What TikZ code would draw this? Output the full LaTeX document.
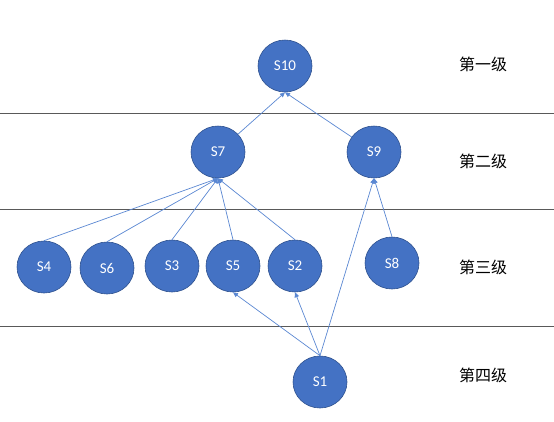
\documentclass[tikz,border=0pt]{standalone}
\usepackage{fontspec}
\setmainfont{Carlito}
\newfontfamily\cjk{Noto Sans CJK SC}
\usetikzlibrary{arrows.meta}
\definecolor{nodefill}{HTML}{4472C4}
\definecolor{nodeline}{HTML}{2F528F}
\definecolor{edgecol}{HTML}{5A87D2}
\definecolor{sepcol}{HTML}{595959}
\tikzset{
  stnode/.style={ellipse, fill=nodefill, draw=nodeline, line width=0.6pt, minimum width=54pt, minimum height=52pt, inner sep=0pt, text=white, font=\fontsize{15}{17}\selectfont},
  edge/.style={draw=edgecol, line width=0.7pt, -{Triangle[length=5pt,width=4.5pt]}},
  sep/.style={draw=sepcol, line width=0.9pt},
  lvl/.style={font=\cjk\fontsize{16}{18}\selectfont, text=black}
}
\usetikzlibrary{shapes.geometric}
\begin{document}
\begin{tikzpicture}[x=1pt,y=-1pt]
\useasboundingbox (0,0) rectangle (554,421);
\coordinate (l1a) at (0,113); \coordinate (l1b) at (554,113);
\coordinate (l2a) at (0,209); \coordinate (l2b) at (554,209);
\coordinate (l3a) at (0,326); \coordinate (l3b) at (554,326);
\draw[sep] (l1a) -- (l1b);
\draw[sep] (l2a) -- (l2b);
\draw[sep] (l3a) -- (l3b);
\node[stnode] (s10) at (285,66) {S10};
\node[stnode] (s7) at (218,152) {S7};
\node[stnode] (s9) at (374,152) {S9};
\node[stnode] (s4) at (44,267) {S4};
\node[stnode] (s6) at (107,268) {S6};
\node[stnode] (s3) at (172,266) {S3};
\node[stnode] (s5) at (233,266) {S5};
\node[stnode] (s2) at (295,266) {S2};
\node[stnode] (s8) at (392,263) {S8};
\node[stnode] (s1) at (320,382) {S1};
\node[lvl] (t1) at (483,64) {第一级};
\node[lvl] (t2) at (483,161) {第二级};
\node[lvl] (t3) at (483,267) {第三级};
\node[lvl] (t4) at (483,375) {第四级};
\draw[edge] (s7) -- (s10.south);
\draw[edge] (s9) -- (s10.south);
\draw[edge] (s4.north) -- (s7.south);
\draw[edge] (s6.north) -- (s7.south);
\draw[edge] (s3.north) -- (s7.south);
\draw[edge] (s5.north) -- (s7.south);
\draw[edge] (s2.north) -- (s7.south);
\draw[edge] (s8.north) -- (s9.south);
\draw[edge] (s1.north) -- (s5.south);
\draw[edge] (s1.north) -- (s2.south);
\draw[edge] (s1.north) -- (s9.south);
\end{tikzpicture}
\end{document}
